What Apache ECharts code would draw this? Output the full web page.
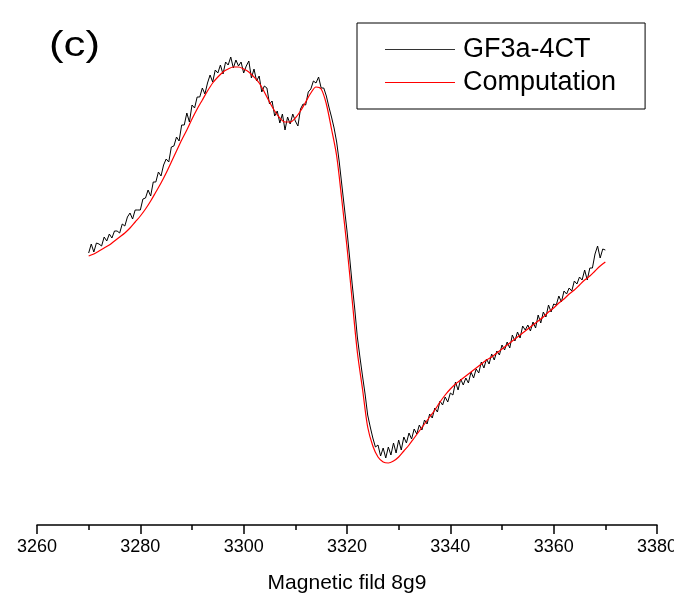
<!DOCTYPE html>
<html>
<head>
<meta charset="utf-8">
<script src="https://cdn.jsdelivr.net/npm/echarts@6/dist/echarts.min.js"></script>
<style>
html,body{margin:0;padding:0;background:#fff;}
#chart{width:674px;height:598px;}
</style>
</head>
<body>
<div id="chart"></div>
<script>
// Magnetic field sweep
const expStart = 3270, expStep = 0.5;   // experimental trace GF3a-4CT
const simStart = 3270, simStep = 1;     // computed trace
const xTicks = [3260, 3280, 3300, 3320, 3340, 3360, 3380];

const expValues = [
  269,278,270,279,278,276,285,281,288,284,
  291,291,289,298,296,305,309,303,312,312,
  312,323,324,332,326,340,340,350,346,357,
  363,360,375,376,385,381,397,397,409,400,
  417,414,425,425,434,428,439,447,440,452,
  449,457,448,460,457,465,454,462,456,460,
  449,456,461,444,453,441,446,430,436,434,
  418,421,406,411,399,408,392,405,398,408,
  401,396,413,418,417,430,433,441,439,445,
  434,434,426,415,405,394,380,360,337,314,
  291,265,238,213,185,165,146,128,107,95,
  84,75,77,66,74,64,75,67,79,69,
  82,72,85,79,89,83,93,88,97,92,
  102,98,108,104,114,110,121,117,125,120,
  129,127,140,132,143,137,144,139,150,144,
  153,149,160,154,163,158,168,162,171,167,
  177,172,180,174,187,181,190,184,196,192,
  197,191,200,194,207,199,210,205,217,210,
  218,217,226,220,231,228,234,231,241,238,
  245,242,252,242,254,254,268,276,264,273,
  272
];

// Computation intensity, arbitrary units
const simValues = [
  266,268,271,274,277,281,285,289,294,300,
  306,313,321,330,339,349,360,371,382,392,
  403,413,422,431,439,445,450,453,455,455,
  453,450,445,439,430,420,411,404,400,400,
  404,411,420,429,435,433,418,393,366,322,
  275,222,170,133,95,76,65,60,59,61,
  65,71,77,84,91,98,105,112,120,127,
  133,138,142,146,150,154,158,162,165,169,
  173,177,181,185,189,193,197,201,205,210,
  214,219,223,228,232,237,242,246,251,256,
  260
];

const seriesNames = ['GF3a-4CT', 'Computation'];
const axisName = 'Magnetic fild 8g9';
const panelLabel = '(c)';

const expData = expValues.map((v, i) => [expStart + i * expStep, v]);
const simData = simValues.map((v, i) => [simStart + i * simStep, v]);

const regular = '"Liberation Sans", Arial, sans-serif';

const chart = echarts.init(document.getElementById('chart'), null, {renderer: 'canvas'});
chart.setOption({
  animation: false,
  backgroundColor: '#fff',
  grid: {left: 37, right: 17, top: 25, bottom: 73, containLabel: false, outerBoundsMode: 'none'},
  xAxis: {
    type: 'value',
    min: xTicks[0],
    max: xTicks[xTicks.length - 1],
    interval: 20,
    name: axisName,
    nameLocation: 'middle',
    nameGap: 48,
    nameTextStyle: {fontFamily: regular, fontSize: 21, color: '#000'},
    axisLine: {show: true, onZero: false, lineStyle: {color: '#000', width: 1.5}},
    axisTick: {show: true, inside: false, length: 9, lineStyle: {color: '#000', width: 1.5}},
    minorTick: {show: true, splitNumber: 2, length: 5, lineStyle: {color: '#000', width: 1.5}},
    axisLabel: {fontFamily: regular, fontSize: 18, color: '#000', margin: 13,
                formatter: v => String(v), showMinLabel: true, showMaxLabel: true, hideOverlap: false},
    splitLine: {show: false}
  },
  yAxis: {
    type: 'value', min: -3, max: 497, show: false, splitLine: {show: false}
  },
  legend: {
    left: 357, top: 23, orient: 'vertical',
    padding: [13, 29, 13, 28],
    itemGap: 6,
    itemWidth: 70, itemHeight: 1,
    icon: 'rect',
    borderColor: '#000', borderWidth: 1,
    textStyle: {fontFamily: regular, fontSize: 27, color: '#000', padding: [0, 0, 0, 3]},
    data: seriesNames
  },
  graphic: [{
    type: 'text', x: 49, y: 46, scaleX: 1.25,
    style: {text: panelLabel, x: 0, y: 0, verticalAlign: 'middle',
            fontSize: 35, fontFamily: regular, fontWeight: 'normal', fill: '#000'}
  }],
  series: [
    {name: seriesNames[0], type: 'line', data: expData, symbol: 'none', smooth: false,
     lineStyle: {color: '#000', width: 1}, itemStyle: {color: '#333'}, z: 2},
    {name: seriesNames[1], type: 'line', data: simData, symbol: 'none', smooth: 0.3,
     lineStyle: {color: '#ff0000', width: 1.2}, itemStyle: {color: '#ff0000'}, z: 3}
  ]
});
</script>
</body>
</html>
